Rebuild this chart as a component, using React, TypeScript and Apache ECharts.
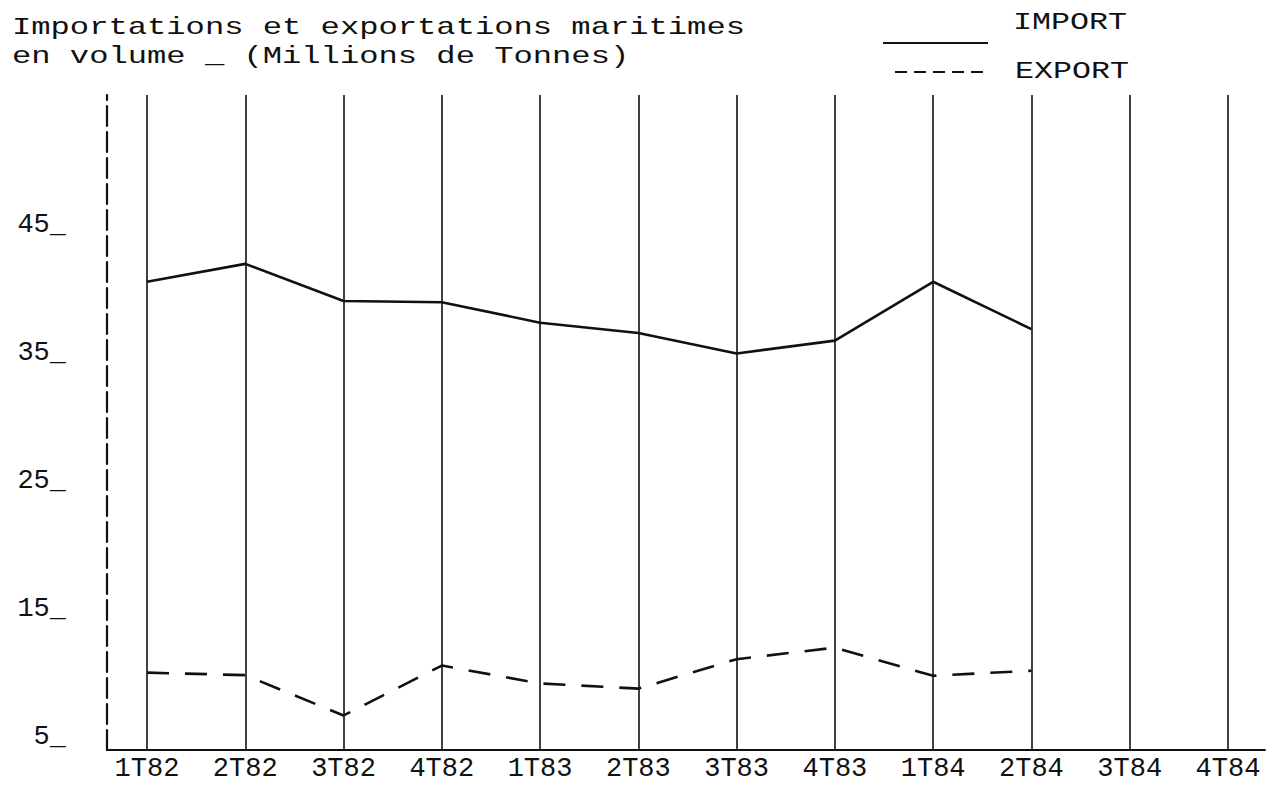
import React, { useEffect, useRef } from "react";
import * as echarts from "echarts";

const categories = ["1T82", "2T82", "3T82", "4T82", "1T83", "2T83", "3T83", "4T83", "1T84", "2T84", "3T84", "4T84"];
const importValues = [41.6, 43.0, 40.1, 40.0, 38.4, 37.6, 36.0, 37.0, 41.6, 37.9];
const exportValues = [11.05, 10.85, 7.7, 11.6, 10.2, 9.8, 12.1, 13.0, 10.8, 11.2];
const yTickValues = [5, 15, 25, 35, 45];
const titleLines = ["Importations et exportations maritimes", "en volume _ (Millions de Tonnes)"];
const legendNames = ["IMPORT", "EXPORT"];

const FONT = "'Liberation Mono', 'DejaVu Sans Mono', monospace";
const INK = "#111";

export default function App() {
  const ref = useRef<HTMLDivElement>(null);

  useEffect(() => {
    if (!ref.current) return;
    const chart = echarts.init(ref.current, null, { renderer: "svg" });
    const catIdx = categories.map((_, i) => i);

    chart.setOption({
      animation: false,
      backgroundColor: "#fff",
      grid: { left: 107, right: 5, top: 95, bottom: 35, containLabel: false },
      xAxis: {
        type: "value",
        min: -0.407,
        max: 11.377,
        axisLine: { show: true, onZero: false, lineStyle: { color: INK, width: 2 } },
        axisTick: { show: false },
        splitLine: { show: false },
        axisLabel: {
          customValues: catIdx,
          formatter: (v: number) => categories[Math.round(v)] ?? "",
          color: INK,
          fontFamily: FONT,
          fontSize: 27,
          margin: 5,
        },
      },
      yAxis: {
        type: "value",
        min: 5,
        max: 56.2,
        axisLine: { show: true, onZero: false, lineStyle: { color: INK, width: 2.2, type: [20, 6] } },
        axisTick: { show: false },
        splitLine: { show: false },
        axisLabel: {
          customValues: yTickValues,
          formatter: (v: number) => `${v}_`,
          color: INK,
          fontFamily: FONT,
          fontSize: 27,
          margin: 41,
          verticalAlign: "bottom",
        },
      },
      series: [
        {
          name: legendNames[0],
          type: "line",
          data: importValues.map((v, i) => [i, v]),
          symbol: "none",
          lineStyle: { color: INK, width: 2.6, type: "solid" },
          z: 3,
          markLine: {
            silent: true,
            symbol: "none",
            label: { show: false },
            lineStyle: { color: INK, width: 1.6, type: "solid" },
            data: catIdx.map((i) => ({ xAxis: i })),
            z: 1,
          },
        },
        {
          name: legendNames[1],
          type: "line",
          data: exportValues.map((v, i) => [i, v]),
          symbol: "none",
          lineStyle: { color: INK, width: 2.6, type: [22, 16] },
          z: 3,
        },
      ],
      graphic: [
        {
          type: "text",
          x: 12,
          y: 28,
          scaleX: 1.34,
          style: { text: titleLines[0], font: `24px ${FONT}`, fill: INK, verticalAlign: "middle" },
        },
        {
          type: "text",
          x: 12,
          y: 57,
          scaleX: 1.34,
          style: { text: titleLines[1], font: `24px ${FONT}`, fill: INK, verticalAlign: "middle" },
        },
        {
          type: "line",
          shape: { x1: 883, y1: 43, x2: 988, y2: 43 },
          style: { stroke: INK, lineWidth: 2 },
        },
        {
          type: "text",
          x: 1013,
          y: 23,
          scaleX: 1.32,
          style: { text: legendNames[0], font: `24px ${FONT}`, fill: INK, verticalAlign: "middle" },
        },
        {
          type: "line",
          shape: { x1: 895, y1: 72, x2: 984, y2: 72 },
          style: { stroke: INK, lineWidth: 2, lineDash: [12, 7] },
        },
        {
          type: "text",
          x: 1015,
          y: 72,
          scaleX: 1.32,
          style: { text: legendNames[1], font: `24px ${FONT}`, fill: INK, verticalAlign: "middle" },
        },
      ],
    });

    return () => chart.dispose();
  }, []);

  return (
    <div
      ref={ref}
      style={{ position: "fixed", left: 0, top: 0, width: 1270, height: 785, background: "#fff" }}
    />
  );
}
